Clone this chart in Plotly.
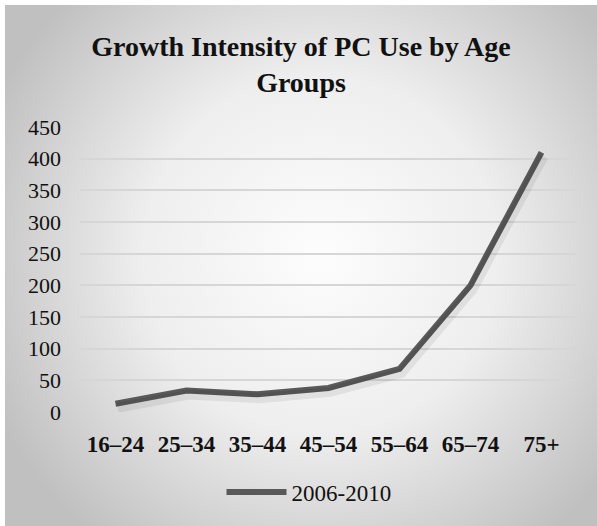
import base64
import plotly.graph_objects as go

# Growth intensity of PC use (2006-2010) by age group
age_groups = ["16–24", "25–34", "35–44", "45–54", "55–64", "65–74", "75+"]
growth_2006_2010 = [13, 34, 28, 38, 68, 200, 410]
series_name = "2006-2010"
y_ticks = [0, 50, 100, 150, 200, 250, 300, 350, 400, 450]

W, H = 597, 526
M_L, M_R, M_T, M_B = 80, 20, 127, 114
PW, PH = W - M_L - M_R, H - M_T - M_B

SERIF = "Liberation Serif, Times New Roman, serif"

# soft radial grey background for the chart box
box_w, box_h = 592, 521
svg = (
    f"<svg xmlns='http://www.w3.org/2000/svg' width='{box_w}' height='{box_h}'>"
    "<defs><radialGradient id='g' gradientUnits='userSpaceOnUse' "
    "cx='315' cy='250' r='360'>"
    "<stop offset='0' stop-color='#fdfdfd'/>"
    "<stop offset='0.5' stop-color='#eeeeee'/>"
    "<stop offset='1' stop-color='#c0c0c0'/>"
    "</radialGradient></defs>"
    f"<rect width='{box_w}' height='{box_h}' fill='url(#g)'/></svg>"
)
bg_src = "data:image/svg+xml;base64," + base64.b64encode(svg.encode()).decode()

fig = go.Figure()

# soft drop shadow: same series on slightly shifted overlay axes
shift_px_x, shift_px_y = 2, 4
fig.add_trace(go.Scatter(
    x=age_groups, y=growth_2006_2010, mode="lines",
    line=dict(color="rgba(0,0,0,0.07)", width=10),
    xaxis="x2", yaxis="y2", showlegend=False, hoverinfo="skip",
))

fig.add_trace(go.Scatter(
    x=age_groups, y=growth_2006_2010, mode="lines", name=series_name,
    line=dict(color="#595959", width=6),
))

cat_px = PW / len(age_groups)
y_span = y_ticks[-1] - y_ticks[0]
dx = shift_px_x / cat_px
dy = shift_px_y / PH * y_span

fig.update_layout(
    width=W, height=H,
    margin=dict(l=M_L, r=M_R, t=M_T, b=M_B),
    paper_bgcolor="white",
    plot_bgcolor="rgba(0,0,0,0)",
    font=dict(family=SERIF, color="#111111"),
    title=dict(
        text="Growth Intensity of PC Use by Age<br>Groups",
        font=dict(family=SERIF, size=28, color="#111111", weight="bold"),
        x=(301) / W, xref="container", xanchor="center",
        y=1 - 56 / H, yref="container", yanchor="top",
    ),
    xaxis=dict(
        type="category", categoryorder="array", categoryarray=age_groups,
        range=[-0.5, len(age_groups) - 0.5],
        showgrid=False, showline=False, zeroline=False, ticks="",
        tickfont=dict(family=SERIF, size=23, color="#111111", weight="bold"),
        ticklabelstandoff=16,
    ),
    yaxis=dict(
        range=[y_ticks[0], y_ticks[-1]], tickvals=y_ticks,
        showgrid=True, gridcolor="#d6d6d6", gridwidth=1.5,
        showline=False, zeroline=False, ticks="",
        tickfont=dict(family=SERIF, size=22, color="#111111"),
        ticklabelstandoff=18,
    ),
    xaxis2=dict(
        type="category", categoryorder="array", categoryarray=age_groups,
        range=[-0.5 - dx, len(age_groups) - 0.5 - dx],
        overlaying="x", visible=False,
    ),
    yaxis2=dict(
        range=[y_ticks[0] + dy, y_ticks[-1] + dy],
        overlaying="y", visible=False,
    ),
    showlegend=True,
    legend=dict(
        orientation="h", x=(309 - M_L) / PW, xanchor="center",
        y=(PH - (492 - M_T)) / PH, yanchor="middle",
        font=dict(family=SERIF, size=23, color="#111111"),
        bgcolor="rgba(0,0,0,0)", itemwidth=60,
    ),
    images=[dict(
        source=bg_src, xref="paper", yref="paper",
        x=(5 - M_L) / PW, y=1 + (M_T - 5) / PH,
        sizex=box_w / PW, sizey=box_h / PH,
        xanchor="left", yanchor="top", sizing="stretch", layer="below",
    )],
)

fig.write_html("out.html")
